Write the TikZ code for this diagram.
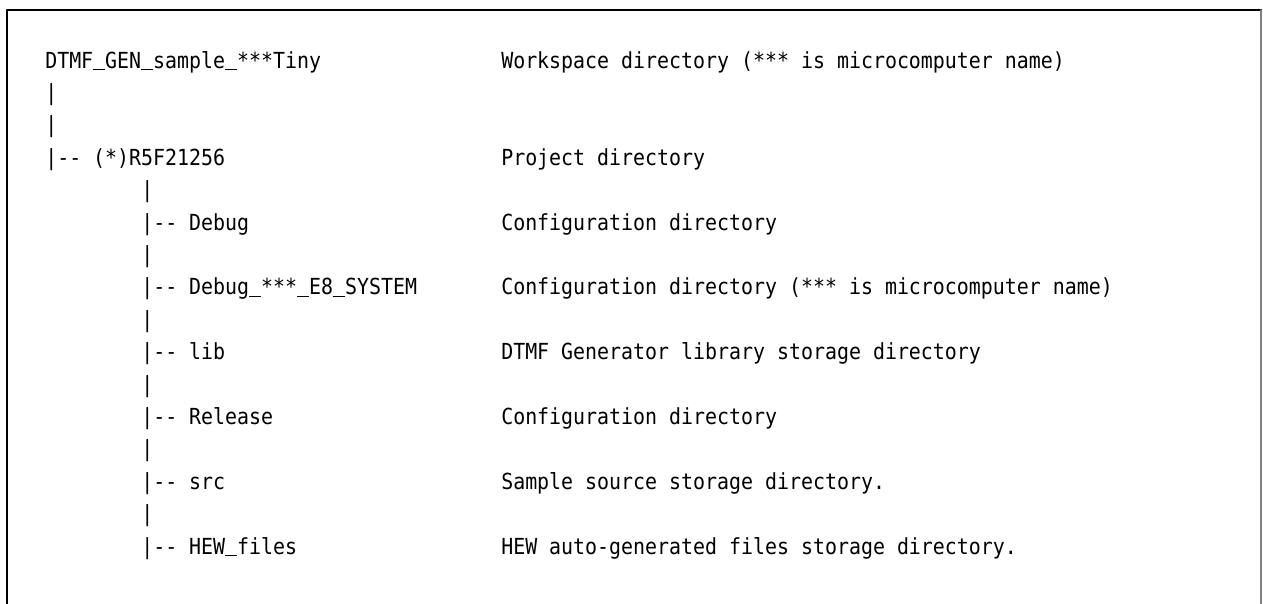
\documentclass[tikz,border=0pt]{standalone}
\usepackage{fontspec}
\setmonofont{DejaVu Sans Mono}[FakeStretch=0.9]
\usetikzlibrary{positioning}

\newcommand\usc{\rlap{\rule[-1.6pt]{8.99pt}{0.9pt}}\phantom{x}}

\tikzset{
  listing/.style={anchor=base west, inner sep=0pt, font=\ttfamily\fontsize{16.6}{20}\selectfont},
}

\begin{document}
\begin{tikzpicture}[line cap=round,line join=round,x=0.75pt,y=-0.75pt]
\useasboundingbox (0,0) rectangle (1263,603);

% Frame (open at the bottom)
\draw[line width=1.6pt] (7,610) -- (7,10) -- (1261,10);
\draw[gray, line width=0.8pt] (1261,10) -- (1261,610);

% Tree column: row / column / text
\foreach \row/\col/\name in {
  0/0/DTMF\usc GEN\usc sample\usc***Tiny,
  1/0/|,
  2/0/|,
  3/0/|-{}- (*)R5F21256,
  4/8/|,
  5/8/|-{}- Debug,
  6/8/|,
  7/8/|-{}- Debug\usc***\usc E8\usc SYSTEM,
  8/8/|,
  9/8/|-{}- lib,
  10/8/|,
  11/8/|-{}- Release,
  12/8/|,
  13/8/|-{}- src,
  14/8/|,
  15/8/|-{}- HEW\usc files
} {
  \node[listing] (tree-\row) at (45+12*\col, 68+32.4*\row) {\name};
}

% Description column
\foreach \row/\desc in {
  0/Workspace directory (*** is microcomputer name),
  3/Project directory,
  5/Configuration directory,
  7/Configuration directory (*** is microcomputer name),
  9/DTMF Generator library storage directory,
  11/Configuration directory,
  13/Sample source storage directory.,
  15/HEW auto-generated files storage directory.
} {
  \node[listing] (desc-\row) at (501, 68+32.4*\row) {\desc};
}

\end{tikzpicture}
\end{document}
